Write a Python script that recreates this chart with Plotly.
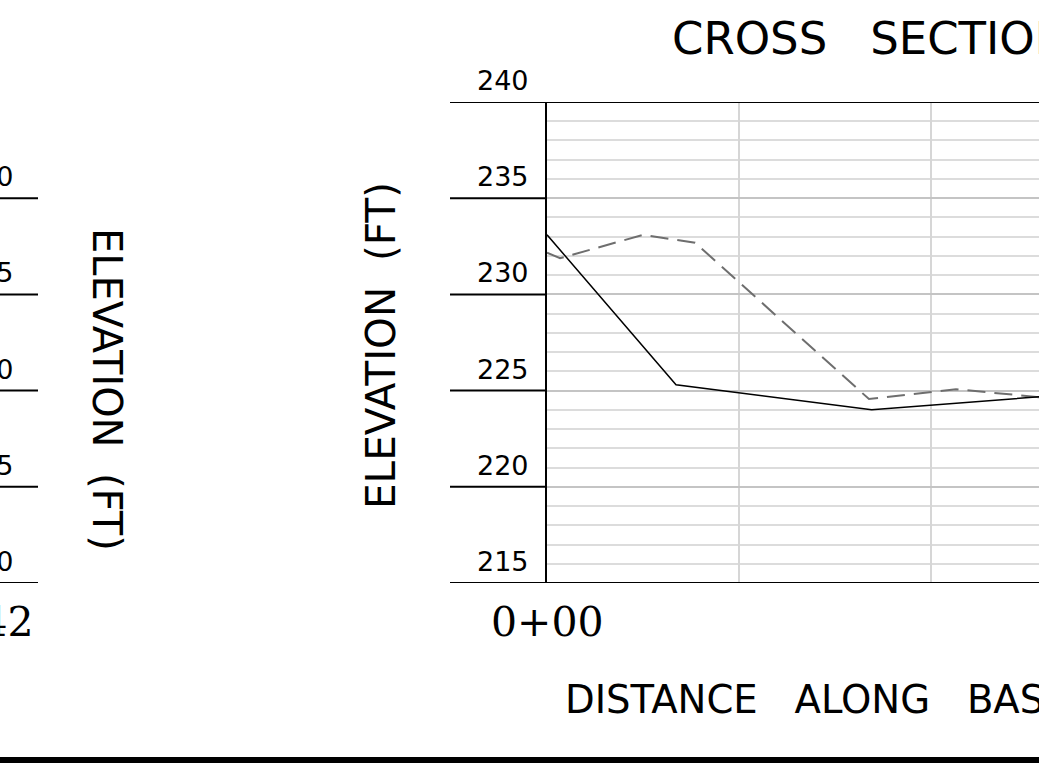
import plotly.graph_objects as go

W, H = 1039, 763

# ---- data (feet) ----
ground_x = [0, 6.72, 16.91, 25.63]
ground_y = [233.1, 225.3, 224.0, 224.68]
design_x = [0, 0.68, 4.98, 7.71, 16.77, 21.3, 25.63]
design_y = [232.17, 231.88, 233.09, 232.69, 224.56, 225.07, 224.66]

main_ticks = [240, 235, 230, 225, 220, 215]
left_ticks = [240, 235, 230, 225, 220]
main_station = "0+00"
left_station = "0+42"

def px(x):
    return x / W

def py(y):
    return (H - y) / H

fig = go.Figure()
fig.add_trace(go.Scatter(x=design_x, y=design_y, mode="lines",
                         line=dict(color="#6e6e6e", width=2, dash="18px,9px"),
                         hoverinfo="skip", showlegend=False))
fig.add_trace(go.Scatter(x=ground_x, y=ground_y, mode="lines",
                         line=dict(color="black", width=1.5),
                         hoverinfo="skip", showlegend=False))

ydom = [py(583), py(102)]
fig.update_layout(
    width=W, height=H, margin=dict(l=0, r=0, t=0, b=0),
    paper_bgcolor="white", plot_bgcolor="white", showlegend=False,
    xaxis=dict(domain=[px(547), 1], range=[0, (W - 547) / 19.2], dtick=10,
               showgrid=True, gridcolor="#d6d6d6", gridwidth=2,
               showticklabels=False, zeroline=False, ticks="", showline=False),
    yaxis=dict(domain=ydom, range=[215, 240], dtick=5,
               showgrid=True, gridcolor="#c4c4c4", gridwidth=2,
               minor=dict(dtick=1, showgrid=True, gridcolor="#dcdcdc", gridwidth=2),
               showticklabels=False, zeroline=False, ticks="",
               showline=True, linecolor="black", linewidth=2),
    yaxis2=dict(domain=ydom, range=[220, 245], overlaying="y", visible=False),
)

shapes = []
for v in main_ticks:
    x1 = 1 if v in (240, 215) else px(547)
    shapes.append(dict(type="line", xref="paper", yref="y", x0=px(450), x1=x1,
                       y0=v, y1=v, line=dict(color="black", width=2)))
for v in left_ticks:
    shapes.append(dict(type="line", xref="paper", yref="y2", x0=px(-60), x1=px(38),
                       y0=v, y1=v, line=dict(color="black", width=2)))
shapes.append(dict(type="rect", xref="paper", yref="paper", x0=0, x1=1,
                   y0=-0.01, y1=py(757), fillcolor="black", line=dict(width=0)))
fig.update_layout(shapes=shapes)

sans = "DejaVu Sans"
serif = "DejaVu Serif"
ann = []
for v in main_ticks:
    ann.append(dict(text=str(v), xref="paper", yref="y", x=px(531), y=v,
                    xanchor="right", yanchor="bottom", yshift=4, showarrow=False,
                    font=dict(family=sans, size=27, color="black")))
for v in left_ticks:
    ann.append(dict(text=str(v), xref="paper", yref="y2", x=px(16), y=v,
                    xanchor="right", yanchor="bottom", yshift=4, showarrow=False,
                    font=dict(family=sans, size=27, color="black")))
ann.append(dict(text="ELEVATION  (FT)", xref="paper", yref="paper", x=px(381), y=py(346),
                textangle=-90, showarrow=False, xanchor="center", yanchor="middle",
                font=dict(family=sans, size=40.5, color="black")))
ann.append(dict(text="ELEVATION  (FT)", xref="paper", yref="paper", x=px(107), y=py(389),
                textangle=90, showarrow=False, xanchor="center", yanchor="middle",
                font=dict(family=sans, size=40, color="black")))
ann.append(dict(text="CROSS   SECTION", xref="paper", yref="paper", x=px(670), y=py(38),
                showarrow=False, xanchor="left", yanchor="middle",
                font=dict(family=sans, size=45, color="black")))
ann.append(dict(text="DISTANCE   ALONG   BASELINE   (FT)", xref="paper", yref="paper",
                x=px(563), y=py(699), showarrow=False, xanchor="left", yanchor="middle",
                font=dict(family=sans, size=38.6, color="black")))
ann.append(dict(text=main_station, xref="x", yref="paper", x=0, y=py(622),
                showarrow=False, xanchor="center", yanchor="middle",
                font=dict(family=serif, size=41, color="black")))
ann.append(dict(text=left_station, xref="paper", yref="paper", x=px(36), y=py(622),
                showarrow=False, xanchor="right", yanchor="middle",
                font=dict(family=serif, size=41, color="black")))
fig.update_layout(annotations=ann)

fig.write_html("out.html", config={"displayModeBar": False},
               post_script="document.body.style.margin='0';document.body.style.overflow='hidden';")
